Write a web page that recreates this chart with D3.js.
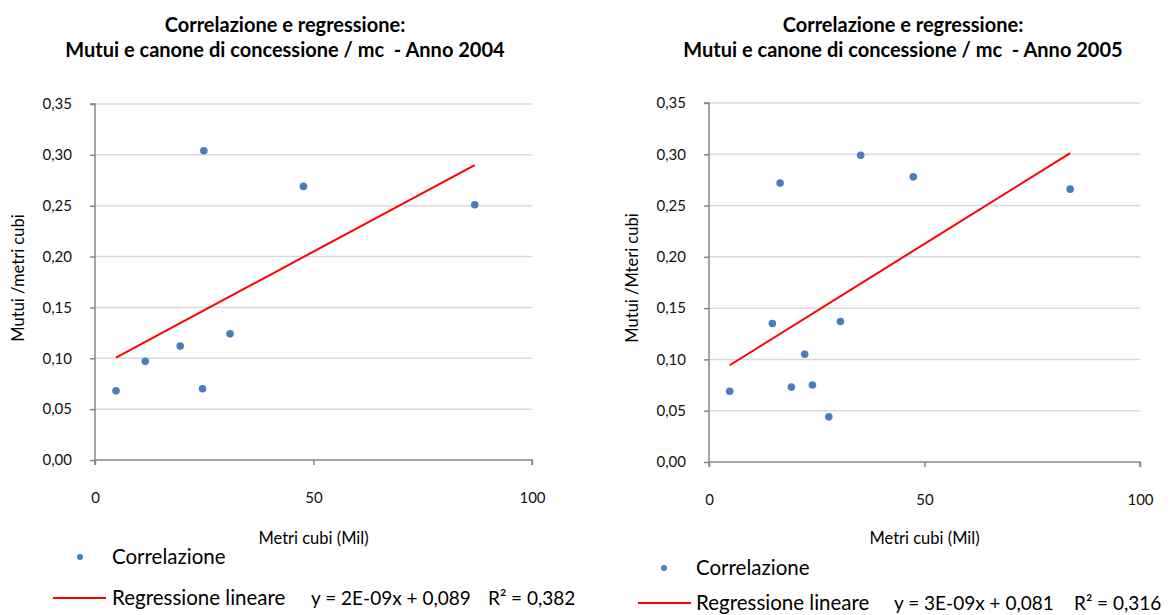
<!DOCTYPE html>
<html>
<head>
<meta charset="utf-8">
<script src="https://cdn.jsdelivr.net/npm/d3@7"></script>
<style>
  body { margin: 0; background: #fff; }
  svg { display: block; font-family: Lato, "Open Sans", sans-serif; }
</style>
</head>
<body>
<svg id="chart" width="1174" height="615"></svg>
<script>
// Anno 2004: metri cubi (Mil) / mutui per metro cubo
const x2004 = [4.8, 11.5, 19.5, 24.9, 24.6, 30.9, 47.7, 86.9];
const y2004 = [0.068, 0.097, 0.112, 0.304, 0.070, 0.124, 0.269, 0.251];

// Anno 2005
const x2005 = [4.8, 14.7, 16.5, 19.1, 22.2, 24.0, 27.8, 30.5, 35.2, 47.4, 83.8];
const y2005 = [0.069, 0.135, 0.272, 0.073, 0.105, 0.075, 0.044, 0.137, 0.299, 0.278, 0.266];

const xTicks = [0, 50, 100];
const yTicks = [0, 0.05, 0.10, 0.15, 0.20, 0.25, 0.30, 0.35];

const titleLine1 = "Correlazione e regressione:";
const legendLabels = ["Correlazione", "Regressione lineare"];

const itLocale = d3.formatLocale({ decimal: ",", thousands: ".", grouping: [3], currency: ["", "€"] });
const fmtY = itLocale.format(".2f");

const svg = d3.select("#chart");

// least squares fit, like the Excel trendline
function linearFit(xs, ys) {
    const mx = d3.mean(xs), my = d3.mean(ys);
    let sxy = 0, sxx = 0;
    xs.forEach((x, i) => { sxy += (x - mx) * (ys[i] - my); sxx += (x - mx) * (x - mx); });
    const slope = sxy / sxx;
    return { slope, intercept: my - slope * mx };
}

function drawChart(cfg) {
    const g = svg.append("g");
    const x = d3.scaleLinear().domain([0, 100]).range([cfg.left, cfg.right]);
    const y = d3.scaleLinear().domain([0, 0.35]).range([cfg.bottom, cfg.top]);

    // titolo
    g.append("text").attr("x", cfg.titleX).attr("y", 25).attr("dy", "0.35em")
        .attr("text-anchor", "middle").style("font-size", "20px").style("font-weight", "700")
        .text(titleLine1);
    g.append("text").attr("x", cfg.titleX).attr("y", 50).attr("dy", "0.35em")
        .attr("text-anchor", "middle").style("font-size", "20px").style("font-weight", "700")
        .style("white-space", "pre").text(cfg.title2);

    // griglia
    g.append("g").selectAll("line")
        .data(yTicks.filter(t => t > 0))
        .join("line")
        .attr("x1", cfg.left).attr("x2", cfg.right)
        .attr("y1", d => y(d)).attr("y2", d => y(d))
        .attr("stroke", "#d9d9d9").attr("stroke-width", 1.5);

    const yAxis = g.append("g").attr("transform", `translate(${cfg.left},0)`)
        .call(d3.axisLeft(y).tickValues(yTicks).tickFormat(fmtY).tickSize(5).tickPadding(18));
    const xAxis = g.append("g").attr("transform", `translate(0,${cfg.bottom})`)
        .call(d3.axisBottom(x).tickValues(xTicks).tickSize(5).tickPadding(27));
    [yAxis, xAxis].forEach(a => {
        a.select(".domain").attr("stroke", "#868686").attr("stroke-width", 1.5);
        a.selectAll(".tick line").attr("stroke", "#868686").attr("stroke-width", 1.5);
        a.selectAll(".tick text").style("font-size", "15px").style("font-family", "Lato, sans-serif").attr("fill", "#111");
    });
    yAxis.select(".domain").attr("d", `M-5,${y(0.35)}H0V${cfg.bottom + 5}`);
    xAxis.select(".domain").attr("d", `M${cfg.left},0H${cfg.right}V5`);

    // titoli assi
    g.append("text").attr("x", (cfg.left + cfg.right) / 2).attr("y", 538).attr("dy", "0.35em")
        .attr("text-anchor", "middle").style("font-size", "16.5px").text("Metri cubi (Mil)");
    g.append("text")
        .attr("transform", `translate(${cfg.yTitleX},278) rotate(-90)`)
        .attr("dy", "0.35em").attr("text-anchor", "middle").style("font-size", "16.5px")
        .text(cfg.yTitle);

    // retta di regressione
    const fit = linearFit(cfg.xs, cfg.ys);
    const [x0, x1] = d3.extent(cfg.xs);
    g.append("line")
        .attr("x1", x(x0)).attr("y1", y(fit.intercept + fit.slope * x0))
        .attr("x2", x(x1)).attr("y2", y(fit.intercept + fit.slope * x1))
        .attr("stroke", "#ff0000").attr("stroke-width", 2);

    // punti
    g.append("g").selectAll("circle")
        .data(cfg.xs.map((v, i) => [v, cfg.ys[i]]))
        .join("circle")
        .attr("cx", d => x(d[0])).attr("cy", d => y(d[1]))
        .attr("r", 3.8).attr("fill", "#4a7ebb");

    // legenda
    const L = cfg.legend;
    g.append("circle").attr("cx", L.dotX).attr("cy", L.row1).attr("r", 3).attr("fill", "#4a7ebb");
    g.append("text").attr("x", L.textX).attr("y", L.row1).attr("dy", "0.35em")
        .style("font-size", "20.5px").text(legendLabels[0]);
    g.append("line").attr("x1", L.lineX1).attr("x2", L.lineX2).attr("y1", L.row2).attr("y2", L.row2)
        .attr("stroke", "#ff0000").attr("stroke-width", 2);
    g.append("text").attr("x", L.textX).attr("y", L.row2).attr("dy", "0.35em")
        .style("font-size", "20.5px").text(legendLabels[1]);
    g.append("text").attr("x", L.eqX).attr("y", L.row2).attr("dy", "0.35em")
        .style("font-size", "19px").text(cfg.equation);
    g.append("text").attr("x", L.r2X).attr("y", L.row2).attr("dy", "0.35em")
        .style("font-size", "19px").text(cfg.r2);
}

drawChart({
    xs: x2004, ys: y2004,
    left: 95, right: 532, top: 104, bottom: 460,
    titleX: 285, title2: "Mutui e canone di concessione / mc  - Anno 2004",
    yTitle: "Mutui /metri cubi", yTitleX: 18,
    equation: "y = 2E-09x + 0,089", r2: "R² = 0,382",
    legend: { dotX: 80, textX: 112, row1: 557, row2: 598, lineX1: 53, lineX2: 106, eqX: 311, r2X: 488 }
});

drawChart({
    xs: x2005, ys: y2005,
    left: 709, right: 1140, top: 103, bottom: 462,
    titleX: 903, title2: "Mutui e canone di concessione / mc  - Anno 2005",
    yTitle: "Mutui /Mteri cubi", yTitleX: 632,
    equation: "y = 3E-09x + 0,081", r2: "R² = 0,316",
    legend: { dotX: 664, textX: 696, row1: 568, row2: 603, lineX1: 638, lineX2: 691, eqX: 894, r2X: 1074 }
});
</script>
</body>
</html>
